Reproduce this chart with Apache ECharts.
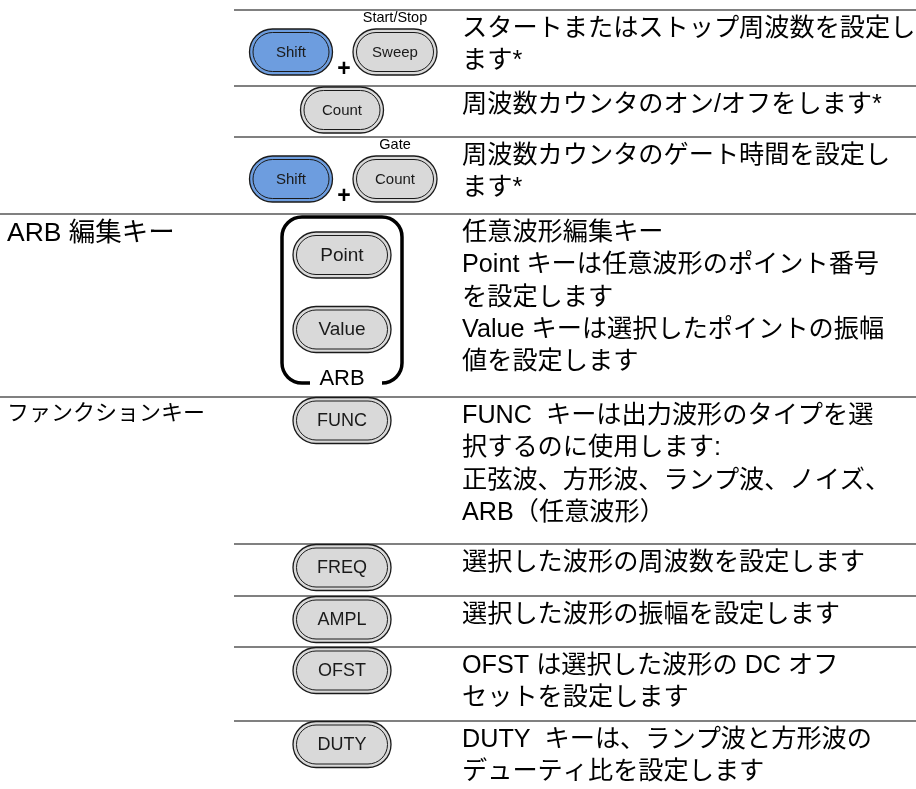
<!DOCTYPE html>
<html>
<head>
<meta charset="utf-8">
<style>
html,body{margin:0;padding:0;background:#fff;}
#c{width:916px;height:789px;}
</style>
<script src="https://cdn.jsdelivr.net/npm/echarts@6/dist/echarts.min.js"></script>
</head>
<body>
<div id="c"></div>
<script>
// ---- content ----
const rowDescriptions = [
  ["スタートまたはストップ周波数を設定し", "ます*"],
  ["周波数カウンタのオン/オフをします*"],
  ["周波数カウンタのゲート時間を設定し", "ます*"],
  ["任意波形編集キー", "Point キーは任意波形のポイント番号", "を設定します", "Value キーは選択したポイントの振幅", "値を設定します"],
  ["FUNC  キーは出力波形のタイプを選", "択するのに使用します:", "正弦波、方形波、ランプ波、ノイズ、", "ARB（任意波形）"],
  ["選択した波形の周波数を設定します"],
  ["選択した波形の振幅を設定します"],
  ["OFST は選択した波形の DC オフ", "セットを設定します"],
  ["DUTY  キーは、ランプ波と方形波の", "デューティ比を設定します"]
];
const rowKeys = [["Shift", "Sweep"], ["Count"], ["Shift", "Count"], ["Point", "Value"], ["FUNC"], ["FREQ"], ["AMPL"], ["OFST"], ["DUTY"]];
const rowShiftLabels = ["Start/Stop", "", "Gate", "", "", "", "", "", ""];
const groupNames = ["", "", "", "ARB 編集キー", "ファンクションキー", "", "", "", ""];
const arbBoxLabel = "ARB";

// ---- layout ----
const rowTops = [10, 86, 137, 214, 397, 544, 596, 647, 721, 789];
const groupStartRows = [3, 4];
const F = '"Liberation Sans", Arial, "Noto Sans CJK JP", sans-serif';
const descX = 462, lineH = 32.3, descFont = 25.2;
const BLUE = '#6d9ddf', GRAY = '#d9d9d9', INK = '#1a1a1a';

const g = [];
function pill(cx, cy, w, h, fill, label, fs) {
  g.push({type: 'rect', shape: {x: cx - w / 2, y: cy - h / 2, width: w, height: h, r: h / 2},
    style: {fill: fill, stroke: INK, lineWidth: 1.3}, z: 10});
  g.push({type: 'rect', shape: {x: cx - w / 2 + 3.5, y: cy - h / 2 + 3.5, width: w - 7, height: h - 7, r: (h - 7) / 2},
    style: {fill: null, stroke: INK, lineWidth: 1}, z: 11});
  g.push({type: 'text', x: cx, y: cy + 0.5, z: 12,
    style: {text: label, font: fs + 'px ' + F, fill: INK, align: 'center', verticalAlign: 'middle', textAlign: 'center', textVerticalAlign: 'middle'}});
}
function txt(x, y, s, fs, align, weight) {
  g.push({type: 'text', x: x, y: y, z: 12,
    style: {text: s, font: (weight ? weight + ' ' : '') + fs + 'px ' + F, fill: '#000', align: align || 'left', verticalAlign: 'middle', textAlign: align || 'left', textVerticalAlign: 'middle'}});
}

// row lines
for (let i = 0; i < rowTops.length - 1; i++) {
  const x1 = groupStartRows.indexOf(i) >= 0 ? 0 : 234;
  g.push({type: 'line', shape: {x1: x1, y1: rowTops[i], x2: 916, y2: rowTops[i]},
    style: {stroke: '#808080', lineWidth: 2.2}, z: 5});
}

rowDescriptions.forEach((lines, i) => {
  const top = rowTops[i];
  lines.forEach((s, j) => txt(descX, top + 19 + j * lineH, s, descFont));
  if (groupNames[i]) txt(7, top + (i === 3 ? 20 : 17), groupNames[i], i === 3 ? 26.5 : 22);
  const keys = rowKeys[i];
  if (i <= 2) {
    const cy = top + (rowShiftLabels[i] ? 42 : 24);
    if (keys.length === 2) {
      pill(291, cy, 83, 46, BLUE, keys[0], 15);
      pill(395, cy, 84, 46, GRAY, keys[1], 15);
      txt(344, cy + 18, '+', 23, 'center', 'bold');
      txt(395, cy - 34, rowShiftLabels[i], 14.5, 'center');
    } else {
      pill(342, cy, 83, 46, GRAY, keys[0], 15);
    }
  } else if (i === 3) {
    // ARB bracket box
    g.push({type: 'rect', shape: {x: 282, y: 217, width: 120, height: 166, r: 20},
      style: {fill: null, stroke: '#000', lineWidth: 3.5}, z: 6});
    g.push({type: 'rect', shape: {x: 310, y: 372, width: 72, height: 20},
      style: {fill: '#fff'}, z: 7});
    txt(342, 379, arbBoxLabel, 22, 'center');
    pill(342, 255, 98, 46, GRAY, keys[0], 19);
    pill(342, 329.5, 98, 46, GRAY, keys[1], 19);
  } else {
    pill(342, top + 23.5, 98, 46, GRAY, keys[0], 18);
  }
});

const chart = echarts.init(document.getElementById('c'));
chart.setOption({backgroundColor: '#fff', animation: false, graphic: {elements: g}});
</script>
</body>
</html>
